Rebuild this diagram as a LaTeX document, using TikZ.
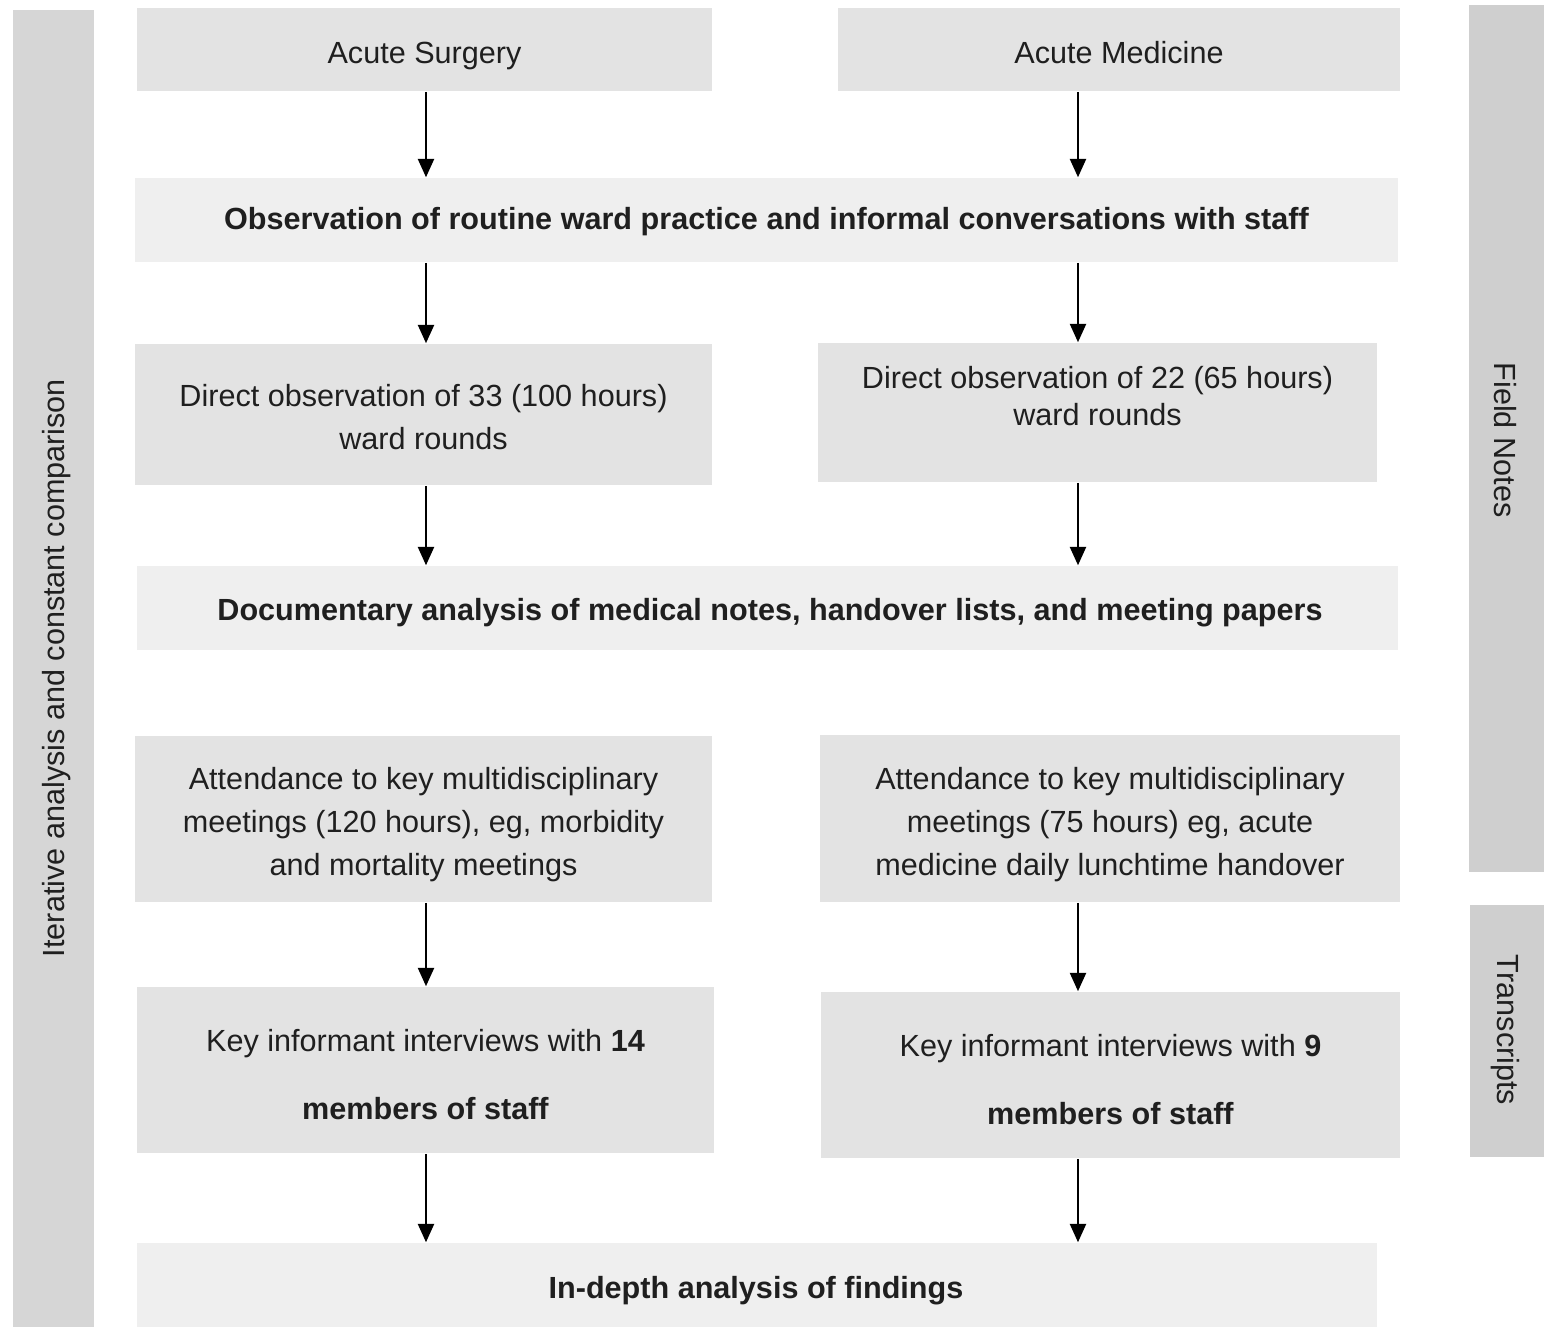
\documentclass[tikz,border=0pt]{standalone}
\usepackage{fontspec}
\setmainfont{Liberation Sans}
\usetikzlibrary{arrows.meta}
\definecolor{boxgray}{HTML}{E3E3E3}
\definecolor{palegray}{HTML}{EFEFEF}
\definecolor{bargray}{HTML}{D6D6D6}
\definecolor{tabgray}{HTML}{CFCFCF}

\begin{document}
\begin{tikzpicture}[x=0.01cm,y=-0.01cm,->,>={Triangle[length=5.2pt,width=4.6pt]},
                    line width=0.45pt,font=\fontsize{8.7}{12.2}\selectfont]
  \tikzstyle{box}=[fill=boxgray,draw=none,inner sep=0pt]
  \tikzstyle{lightbox}=[box,fill=palegray]
  \tikzstyle{txt}=[inner sep=0pt,align=center,text=black!88]
  \tikzstyle{boldtxt}=[txt,anchor=base,font=\fontsize{8.7}{12.2}\selectfont\bfseries]
  \tikzstyle{bar}=[fill=bargray,draw=none,inner sep=0pt]
  \useasboundingbox (0,0) rectangle (1544,1326);

  % side bars
  \node[bar,minimum width=0.81cm,minimum height=13.2cm] (iter) at (53.5,670) {};
  \node[txt,rotate=90] (itertxt) at (57,668) {Iterative analysis and constant comparison};
  \node[bar,fill=tabgray,minimum width=0.79cm,minimum height=8.67cm] (field) at (1508.5,438.5) {};
  \node[txt,rotate=-90] (fieldtxt) at (1505,440) {Field Notes};
  \node[bar,fill=tabgray,minimum width=0.78cm,minimum height=2.52cm] (trans) at (1509,1031) {};
  \node[txt,rotate=-90] (transtxt) at (1505,1030) {Transcripts};

  % boxes
  \node[box,minimum width=5.75cm,minimum height=0.83cm]       (surg)    at (424.5,49.5)  {};
  \node[box,minimum width=5.62cm,minimum height=0.83cm]       (med)     at (1119,49.5)   {};
  \node[lightbox,minimum width=12.63cm,minimum height=0.84cm] (obs)     at (766.5,220)   {};
  \node[box,minimum width=5.77cm,minimum height=1.41cm]       (dirL)    at (423.5,414.5) {};
  \node[box,minimum width=5.59cm,minimum height=1.39cm]       (dirR)    at (1097.5,412.5) {};
  \node[lightbox,minimum width=12.61cm,minimum height=0.84cm] (docu)    at (767.5,608)   {};
  \node[box,minimum width=5.77cm,minimum height=1.66cm]       (attL)    at (423.5,819)   {};
  \node[box,minimum width=5.80cm,minimum height=1.67cm]       (attR)    at (1110,818.5)  {};
  \node[box,minimum width=5.77cm,minimum height=1.66cm]       (keyL)    at (425.5,1070)  {};
  \node[box,minimum width=5.79cm,minimum height=1.66cm]       (keyR)    at (1110.5,1075) {};
  \node[lightbox,minimum width=12.40cm,minimum height=0.87cm] (indepth) at (757,1286.5)  {};

  % box texts
  \node[txt,anchor=base] (surgtxt) at (424.5,63) {Acute Surgery};
  \node[txt,anchor=base] (medtxt)  at (1119,63)  {Acute Medicine};
  \node[boldtxt] (obstxt) at (766.5,229)
        {Observation of routine ward practice and informal conversations with staff};
  \node[txt] (dirLtxt) at (423.5,417)
        {Direct observation of 33 (100 hours)\\ward rounds};
  \node[txt] (dirRtxt) at (1097.5,396)
        {Direct observation of 22 (65 hours)\\[-1.7pt]ward rounds};
  \node[boldtxt] (docutxt) at (770,620)
        {Documentary analysis of medical notes, handover lists, and meeting papers};
  \node[txt] (attLtxt) at (423.5,824.5)
        {Attendance to key multidisciplinary\\meetings (120 hours), eg, morbidity\\and mortality meetings};
  \node[txt] (attRtxt) at (1110,824.5)
        {Attendance to key multidisciplinary\\meetings (75 hours) eg, acute\\medicine daily lunchtime handover};
  \node[txt] (keyLtxt) at (425.5,1074.5)
        {Key informant interviews with \textbf{14}\\[7.2pt]\textbf{members of staff}};
  \node[txt] (keyRtxt) at (1110.5,1079.5)
        {Key informant interviews with \textbf{9}\\[7.2pt]\textbf{members of staff}};
  \node[boldtxt] (indepthtxt) at (756,1298) {In-depth analysis of findings};

  % arrow columns
  \coordinate (lcol) at (426,0);
  \coordinate (rcol) at (1078,0);

  \path (surg.south -| lcol)  edge (obs.north -| lcol)
        (med.south -| rcol)   edge (obs.north -| rcol)
        (obs.south -| lcol)   edge (dirL.north -| lcol)
        (obs.south -| rcol)   edge (dirR.north -| rcol)
        (dirL.south -| lcol)  edge (docu.north -| lcol)
        (dirR.south -| rcol)  edge (docu.north -| rcol)
        (attL.south -| lcol)  edge (keyL.north -| lcol)
        (attR.south -| rcol)  edge (keyR.north -| rcol)
        (keyL.south -| lcol)  edge (indepth.north -| lcol)
        (keyR.south -| rcol)  edge (indepth.north -| rcol);
\end{tikzpicture}
\end{document}
